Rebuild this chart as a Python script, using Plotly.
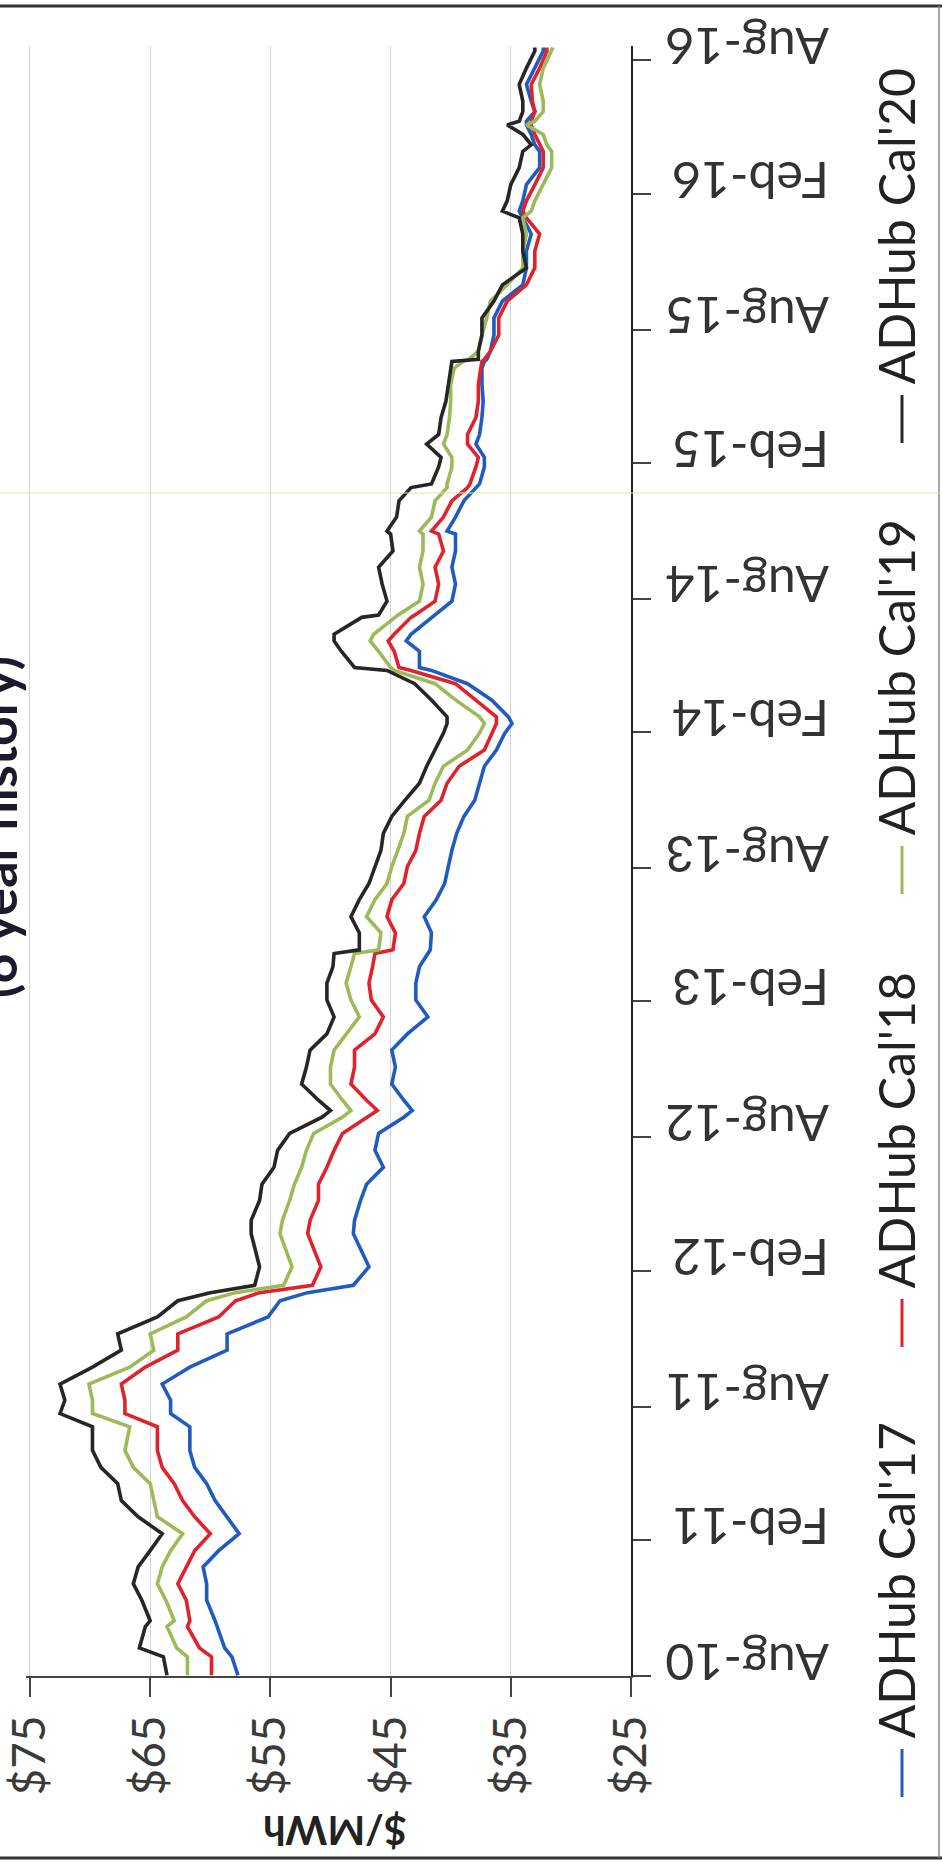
import plotly.graph_objects as go

# ---------------- data ----------------
dates = [
    "2010-08-02", "2010-08-27", "2010-09-08", "2010-10-07", "2010-10-15", "2010-11-12", "2010-12-04", "2010-12-27", "2011-01-18", "2011-02-10",
    "2011-03-05", "2011-03-27", "2011-04-19", "2011-05-11", "2011-06-03", "2011-07-05", "2011-07-23", "2011-08-10", "2011-09-01", "2011-09-24",
    "2011-10-17", "2011-11-08", "2011-12-01", "2011-12-23", "2012-01-03", "2012-01-13", "2012-02-07", "2012-03-23", "2012-04-10", "2012-05-07",
    "2012-05-29", "2012-06-21", "2012-07-14", "2012-08-06", "2012-08-28", "2012-09-06", "2012-09-20", "2012-10-12", "2012-11-04", "2012-11-27",
    "2012-12-19", "2013-01-11", "2013-02-03", "2013-02-26", "2013-03-20", "2013-04-07", "2013-04-12", "2013-05-05", "2013-05-27", "2013-06-19",
    "2013-07-11", "2013-08-03", "2013-08-25", "2013-09-17", "2013-10-10", "2013-11-01", "2013-11-24", "2013-12-17", "2014-01-08", "2014-01-31",
    "2014-02-13", "2014-02-22", "2014-03-17", "2014-04-08", "2014-04-26", "2014-04-30", "2014-05-22", "2014-06-05", "2014-06-14", "2014-07-07",
    "2014-07-10", "2014-07-29", "2014-08-21", "2014-09-13", "2014-10-05", "2014-10-28", "2014-11-01", "2014-11-20", "2014-12-12", "2014-12-30",
    "2015-01-04", "2015-01-27", "2015-02-09", "2015-02-27", "2015-03-12", "2015-04-04", "2015-04-26", "2015-05-19", "2015-06-10", "2015-06-19",
    "2015-06-22", "2015-07-03", "2015-07-25", "2015-08-17", "2015-09-09", "2015-10-01", "2015-10-24", "2015-11-16", "2015-12-09", "2015-12-31",
    "2016-01-09", "2016-01-23", "2016-02-14", "2016-03-08", "2016-03-30", "2016-04-08", "2016-04-22", "2016-05-05", "2016-05-10", "2016-05-23",
    "2016-06-06", "2016-06-29", "2016-07-21", "2016-08-13", "2016-08-18",
]

cal17 = [57.7, 58.2, 58.8, 59.4, 59.6, 60.3, 60.3, 60.6, 59.3, 57.6,
         58.6, 59.6, 60.3, 61.3, 61.7, 61.7, 63.3, 63.3, 64.0, 61.7,
         58.6, 58.6, 55.2, 54.2, 51.9, 48.1, 46.8, 48.1, 48.0, 47.5,
         47.0, 45.6, 46.3, 46.0, 43.9, 43.2, 43.9, 44.9, 44.6, 44.9,
         43.6, 41.9, 42.9, 42.9, 42.6, 41.9, 41.7, 41.6, 42.2, 41.2,
         40.5, 40.2, 39.9, 39.5, 38.9, 38.0, 37.6, 37.2, 36.2, 35.5,
         34.9, 35.2, 36.6, 38.6, 41.6, 42.6, 42.6, 43.7, 43.3, 41.6,
         41.3, 39.9, 39.6, 39.9, 39.6, 39.6, 40.3, 39.6, 38.9, 37.9,
         37.6, 37.2, 37.2, 37.9, 37.6, 37.4, 37.3, 37.4, 37.4, 37.2,
         37.0, 36.7, 36.4, 36.4, 35.7, 34.0, 33.7, 33.7, 33.3, 34.0,
         34.3, 34.0, 33.7, 32.6, 32.6, 33.0, 33.3, 33.7, 33.7, 33.0,
         33.3, 33.7, 33.0, 32.3, 32.3]

cal18 = [59.9, 59.9, 60.9, 61.9, 61.7, 62.0, 62.7, 62.0, 61.3, 60.0,
         61.3, 62.3, 63.0, 64.0, 64.4, 64.4, 67.1, 67.1, 67.4, 65.4,
         62.7, 62.7, 59.3, 57.9, 55.9, 51.5, 50.8, 51.9, 51.7, 51.0,
         51.0, 50.3, 49.7, 49.0, 47.0, 46.1, 47.0, 48.3, 48.0, 48.0,
         46.3, 45.6, 46.6, 46.8, 46.5, 46.3, 44.8, 44.6, 45.3, 44.9,
         43.9, 43.6, 42.9, 42.6, 42.2, 40.8, 40.3, 39.3, 37.2, 36.6,
         36.2, 36.2, 37.9, 39.6, 43.3, 44.3, 44.7, 45.2, 44.7, 43.3,
         43.0, 41.3, 41.0, 41.3, 40.6, 41.0, 41.6, 40.6, 39.9, 38.6,
         38.4, 37.9, 37.7, 38.6, 38.6, 37.9, 37.7, 37.7, 37.5, 37.4,
         37.2, 36.7, 36.0, 36.0, 35.3, 33.7, 33.0, 33.0, 32.6, 33.7,
         34.0, 33.7, 33.0, 32.3, 32.3, 32.6, 33.0, 33.3, 33.3, 33.0,
         33.2, 33.3, 32.6, 32.0, 32.0]

cal19 = [61.9, 61.9, 62.8, 63.6, 63.0, 63.7, 64.4, 64.0, 63.3, 62.3,
         64.4, 64.7, 65.0, 66.4, 67.1, 66.7, 69.8, 69.8, 70.1, 66.7,
         64.7, 65.0, 62.0, 60.3, 57.9, 53.9, 53.2, 54.2, 54.0, 53.4,
         53.0, 52.4, 52.0, 51.4, 49.0, 48.3, 49.0, 50.0, 50.0, 49.7,
         48.7, 47.6, 48.3, 48.7, 48.3, 48.0, 46.0, 45.8, 47.0, 46.3,
         45.3, 44.9, 44.4, 43.9, 43.6, 41.8, 41.3, 40.6, 38.6, 37.6,
         37.2, 37.6, 39.6, 41.3, 44.7, 45.0, 46.0, 46.7, 46.4, 44.7,
         44.4, 42.6, 42.3, 42.6, 42.3, 42.3, 42.6, 41.6, 41.3, 40.3,
         40.3, 39.9, 39.9, 40.6, 40.3, 40.1, 40.0, 40.0, 39.7, 39.0,
         38.5, 37.7, 37.4, 37.0, 36.7, 35.3, 34.0, 34.0, 33.7, 34.0,
         33.3, 33.0, 32.3, 31.6, 31.6, 32.0, 32.3, 33.7, 33.0, 32.3,
         32.3, 32.6, 32.3, 31.6, 31.5]

cal20 = [63.6, 63.9, 65.9, 65.4, 65.0, 65.7, 66.4, 66.0, 65.0, 64.0,
         66.0, 67.4, 67.7, 69.1, 69.8, 69.8, 72.5, 72.1, 72.5, 69.8,
         67.4, 67.7, 64.4, 62.7, 60.0, 56.3, 55.9, 56.6, 56.6, 55.9,
         55.7, 54.7, 54.4, 53.4, 50.7, 50.0, 51.0, 52.4, 52.0, 51.7,
         50.3, 49.7, 50.3, 50.3, 49.8, 49.7, 47.6, 47.6, 48.3, 47.6,
         46.8, 46.3, 45.8, 45.6, 44.9, 43.8, 42.6, 42.0, 41.3, 40.6,
         40.3, 40.3, 41.6, 43.0, 45.3, 48.0, 49.1, 49.7, 49.7, 47.4,
         46.0, 45.3, 45.7, 46.0, 44.8, 45.0, 45.3, 44.5, 44.3, 43.3,
         41.6, 41.0, 40.8, 42.0, 41.0, 40.8, 40.4, 40.2, 40.0, 39.9,
         37.7, 37.7, 37.4, 37.4, 36.4, 35.7, 33.7, 34.0, 34.0, 34.3,
         35.7, 35.3, 35.0, 34.3, 34.0, 33.3, 34.0, 35.3, 34.3, 34.0,
         34.0, 34.3, 33.7, 33.0, 33.0]

series_names = ["ADHub Cal'17", "ADHub Cal'18", "ADHub Cal'19", "ADHub Cal'20"]
series_values = [cal17, cal18, cal19, cal20]
series_colors = ["#1f5cc0", "#e0222c", "#9bbb59", "#262626"]

price_ticks = [75, 65, 55, 45, 35, 25]
price_labels = ["$75", "$65", "$55", "$45", "$35", "$25"]
date_ticks = ["2010-08-01", "2011-02-01", "2011-08-01", "2012-02-01", "2012-08-01", "2013-02-01",
              "2013-08-01", "2014-02-01", "2014-08-01", "2015-02-01", "2015-08-01", "2016-02-01", "2016-08-01"]
date_labels = ["Aug-10", "Feb-11", "Aug-11", "Feb-12", "Aug-12", "Feb-13",
               "Aug-13", "Feb-14", "Aug-14", "Feb-15", "Aug-15", "Feb-16", "Aug-16"]

# ---------------- layout geometry (pixels) ----------------
W, H = 942, 1862
L, R, T, B = 26, 631, 46, 1676
PRICE_MAX = 75.33
FONT = "Lato"


def px(x):
    return (x - L) / (R - L)


def py(y):
    return (B - y) / (B - T)


fig = go.Figure()
for name, vals, col in zip(series_names, series_values, series_colors):
    fig.add_trace(go.Scatter(x=vals, y=dates, mode="lines", name=name,
                             line=dict(color=col, width=3.6)))

fig.update_layout(
    width=W, height=H,
    margin=dict(l=L, r=W - R, t=T, b=H - B, autoexpand=False),
    paper_bgcolor="white", plot_bgcolor="white",
    showlegend=False,
    font=dict(family=FONT, color="#333333"),
)

fig.update_xaxes(
    range=[PRICE_MAX, 25], tickvals=price_ticks, ticktext=price_labels,
    showgrid=True, gridcolor="#d4d4d4", gridwidth=1, zeroline=False,
    showline=True, linecolor="#444444", linewidth=2,
    ticks="outside", ticklen=19, tickwidth=2, tickcolor="#444444",
    tickangle=-90, ticklabeloverflow="allow",
    tickfont=dict(size=46, color="#3a3a3a", family=FONT),
    automargin=False,
)
fig.update_yaxes(
    type="date", range=["2010-08-01", "2016-08-20"], side="right",
    tickvals=date_ticks, ticktext=date_labels,
    showgrid=False, zeroline=False,
    showline=True, linecolor="#222222", linewidth=2,
    ticks="outside", ticklen=18, tickwidth=2, tickcolor="#444444",
    tickangle=180, ticklabelstandoff=168, ticklabeloverflow="allow",
    tickfont=dict(size=50, color="#333333", family=FONT),
    automargin=False,
)

shapes = []
annotations = []

# legend, drawn along the right side and reading upward
for name, col, lb in zip(series_names, series_colors, [1797, 1347, 894, 443]):
    shapes.append(dict(type="line", xref="paper", yref="paper",
                       x0=px(902), x1=px(902), y0=py(lb), y1=py(lb - 48),
                       line=dict(color=col, width=3)))
    annotations.append(dict(text=name, xref="paper", yref="paper",
                            x=px(895), y=py(lb - 56), xanchor="center", yanchor="bottom",
                            textangle=-90, showarrow=False,
                            font=dict(size=50, color="#222222", family=FONT)))

# axis title (upside down, as in the rotated scan)
annotations.append(dict(text="<b>$/MWh</b>", xref="paper", yref="paper",
                        x=px(335), y=py(1831), xanchor="center", yanchor="middle",
                        textangle=180, showarrow=False,
                        font=dict(size=40, color="#222222", family=FONT)))
# chart subtitle, cut by the left edge of the page
annotations.append(dict(text="<b>(6 year history)</b>", xref="paper", yref="paper",
                        x=px(30), y=py(827), xanchor="right", yanchor="middle",
                        textangle=-90, showarrow=False,
                        font=dict(size=52, color="#1a1a2a", family=FONT)))

# page borders and scan line
shapes.append(dict(type="line", xref="paper", yref="paper", x0=px(0), x1=px(W), y0=py(6), y1=py(6),
                   line=dict(color="#333333", width=3)))
shapes.append(dict(type="line", xref="paper", yref="paper", x0=px(0), x1=px(W), y0=py(1858), y1=py(1858),
                   line=dict(color="#333333", width=3)))
shapes.append(dict(type="line", xref="paper", yref="paper", x0=px(939), x1=px(939), y0=py(6), y1=py(1858),
                   line=dict(color="#888888", width=1.5)))
shapes.append(dict(type="line", xref="paper", yref="paper", x0=px(0), x1=px(W), y0=py(493), y1=py(493),
                   line=dict(color="#e4e4a8", width=1)))

fig.update_layout(shapes=shapes, annotations=annotations)

fig.write_html("out.html")
